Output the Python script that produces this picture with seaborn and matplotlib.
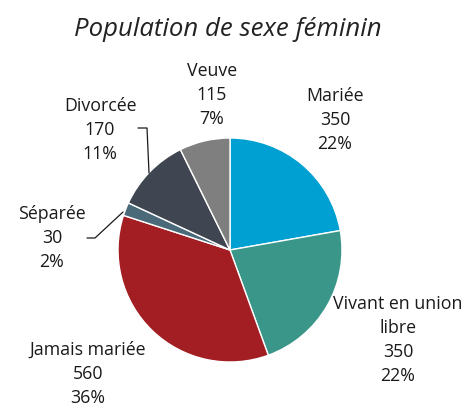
import seaborn as sns
import matplotlib.pyplot as plt

categories = ["Mariée", "Vivant en union\nlibre", "Jamais mariée", "Séparée", "Divorcée", "Veuve"]
values = [350, 350, 560, 30, 170, 115]
colors = ["#00A0D3", "#3A9688", "#A21E23", "#4A6A7A", "#3F4651", "#7F7F7F"]

# label centres in pixels (x, y from top) of the 468x409 picture
label_px = [(335, 120), (398, 340), (88, 374), (52, 238), (100, 130), (212, 95)]

sns.set_theme(style="white")
plt.rcParams['font.family'] = ['Open Sans', 'DejaVu Sans']

W, H = 468, 409
fig = plt.figure(figsize=(W / 100, H / 100), dpi=100)
cx, cy, r = 230, 250, 112
ax = fig.add_axes([(cx - r) / W, (H - cy - r) / H, 2 * r / W, 2 * r / H])

ax.pie(values, colors=colors, startangle=90, counterclock=False,
       wedgeprops=dict(edgecolor="white", linewidth=1))
ax.set_xlim(-1, 1)
ax.set_ylim(-1, 1)
ax.set_aspect("equal")
ax.axis("off")

total = sum(values)
for cat, v, (px, py) in zip(categories, values, label_px):
    txt = f"{cat}\n{v}\n{round(v / total * 100)}%"
    fig.text(px / W, 1 - py / H, txt, ha="center", va="center",
             fontsize=12.8, linespacing=1.45, color="#1a1a1a")

# leader lines (Divorcée, Séparée)
def px2fig(x, y):
    return x / W, 1 - y / H

for pts in ([(138, 128), (147, 128), (149, 173)], [(87, 238), (95, 238), (123, 212)]):
    xs, ys = zip(*[px2fig(*p) for p in pts])
    fig.add_artist(plt.Line2D(xs, ys, color="#1a1a1a", linewidth=0.9))

fig.text(228 / W, 1 - 30 / H, "Population de sexe féminin", ha="center", va="center",
         fontsize=18.5, style="italic", color="#222222")

fig.savefig("out.png", dpi=100)
